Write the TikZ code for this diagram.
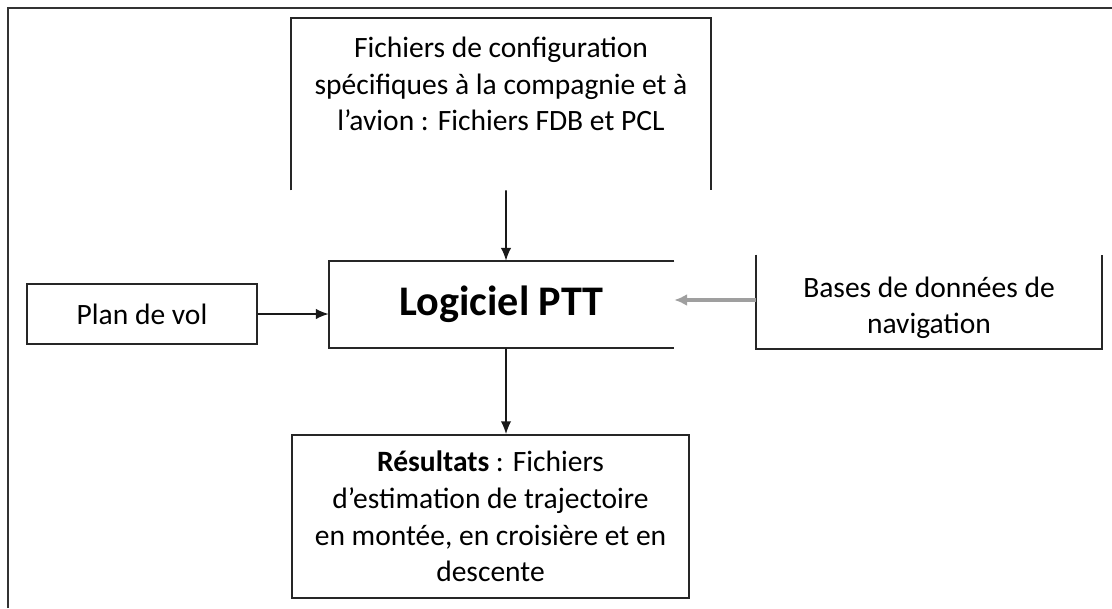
\documentclass[tikz,border=0pt]{standalone}
\usepackage{fontspec}
\setmainfont{Carlito}
\usetikzlibrary{arrows.meta, positioning}
\tikzset{
  boite/.style={
    rectangle, text centered, align=center, inner sep=0pt
  },
  trait/.style={
    line width=1.2pt, draw=black!85
  },
  fleche/.style={
    -{Latex[length=0.32cm,width=0.26cm]}, line width=1.1pt, color=black!90
  },
  flechegrise/.style={
    -{Latex[length=0.32cm,width=0.3cm]}, line width=2.2pt, color=gray!75
  }
}

\begin{document}
\begin{tikzpicture}[every node/.style={font=\fontsize{21}{26}\selectfont}]
    \useasboundingbox (0,0) rectangle (27.8,15.2);

    % Outer frame (top and left only)
    \draw[line width=1.7pt, black!80] (0.2,0) -- (0.2,15.0) -- (27.8,15.0);

    % Configuration files (open at the bottom)
    \node[boite, minimum width=10.5cm, minimum height=4.3cm] (cfg) at (12.525,12.6) {};
    \node[boite] (cfgtxt) at (12.525,13.1) {Fichiers de configuration\\
      spécifiques à la compagnie et à\\ l'avion : Fichiers FDB et PCL};
    \draw[trait] (cfg.south west) -- (cfg.north west) -- (cfg.north east) -- (cfg.south east);

    % Main software (open on the right)
    \node[boite, minimum width=8.625cm, minimum height=2.175cm] (ptt) at (12.5375,7.5875)
      {\fontsize{30}{36}\selectfont\textbf{Logiciel PTT}};
    \draw[trait] (ptt.north east) -- (ptt.north west) -- (ptt.south west) -- (ptt.south east);

    % Flight plan
    \node[boite, trait, minimum width=5.75cm, minimum height=1.5cm] (plan) at (3.55,7.35) {Plan de vol};

    % Navigation databases (open at the top)
    \node[boite, minimum width=8.65cm, minimum height=2.35cm] (nav) at (23.225,7.65) {};
    \node[boite] (navtxt) at (23.225,7.5) {Bases de données de\\ navigation};
    \draw[trait] (nav.north west) -- (nav.south west) -- (nav.south east) -- (nav.north east);

    % Results
    \node[boite, trait, minimum width=9.925cm, minimum height=4.075cm] (res) at (12.2625,2.2875)
      {\textbf{Résultats} : Fichiers\\ d'estimation de trajectoire\\
       en montée, en croisière et en\\ descente};

    % Arrows
    \draw[fleche] ([xshift=0.125cm]cfg.south) -- ([xshift=0.1125cm]ptt.north);
    \draw[fleche] (plan.east) -- (plan.east -| ptt.west);
    \draw[flechegrise] ([yshift=0.05cm]nav.west) -- ([yshift=0.05cm]nav.west -| ptt.east);
    \draw[fleche] ([xshift=0.1125cm]ptt.south) -- ([xshift=0.3875cm]res.north);
\end{tikzpicture}
\end{document}
